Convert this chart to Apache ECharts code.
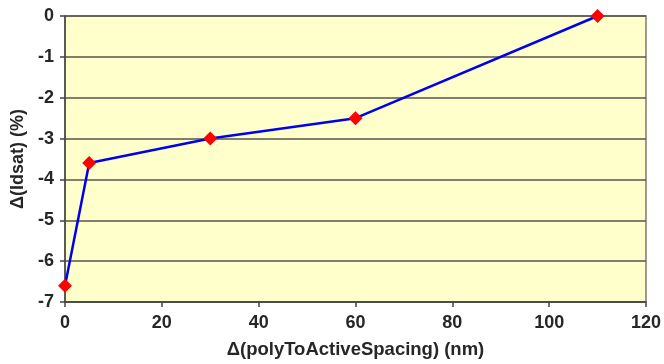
<!DOCTYPE html>
<html>
<head>
<meta charset="utf-8">
<script src="https://cdn.jsdelivr.net/npm/echarts@6/dist/echarts.min.js"></script>
<style>
  html, body { margin: 0; padding: 0; background: #ffffff; }
  #chart { width: 664px; height: 364px; }
</style>
</head>
<body>
<div id="chart"></div>
<script>
// Spacing change (nm) vs. relative Idsat change (%)
const spacing = [0, 5, 30, 60, 110];
const idsatDelta = [-6.6, -3.6, -3.0, -2.5, 0];
const xTitle = 'Δ(polyToActiveSpacing) (nm)';
const yTitle = 'Δ(Idsat) (%)';

const points = spacing.map((x, i) => [x, idsatDelta[i]]);
const font = 'Liberation Sans, Arial, sans-serif';

const chart = echarts.init(document.getElementById('chart'));
chart.setOption({
  animation: false,
  backgroundColor: '#ffffff',
  grid: {
    left: 65, right: 17, top: 16, bottom: 62,
    show: true,
    backgroundColor: '#ffffcc',
    borderColor: '#7a7a70',
    borderWidth: 1.5
  },
  xAxis: {
    type: 'value',
    min: 0, max: 120, interval: 20,
    name: xTitle,
    nameLocation: 'middle',
    nameGap: 38,
    nameTextStyle: { fontFamily: font, fontWeight: 'bold', fontSize: 18.5, color: '#262626' },
    axisLine: { show: true, onZero: false, lineStyle: { color: '#444', width: 1.5 } },
    axisTick: { show: true, length: 5, lineStyle: { color: '#444', width: 1.5 } },
    axisLabel: { fontFamily: font, fontWeight: 'bold', fontSize: 18, color: '#262626', margin: 12 },
    splitLine: { show: false }
  },
  yAxis: {
    type: 'value',
    min: -7, max: 0, interval: 1,
    name: yTitle,
    nameLocation: 'middle',
    nameGap: 38,
    nameRotate: 90,
    nameTextStyle: { fontFamily: font, fontWeight: 'bold', fontSize: 18, color: '#262626' },
    axisLine: { show: true, lineStyle: { color: '#444', width: 1.5 } },
    axisTick: { show: true, length: 5, lineStyle: { color: '#444', width: 1.5 } },
    axisLabel: { fontFamily: font, fontWeight: 'bold', fontSize: 18, color: '#262626', margin: 11 },
    splitLine: { show: true, lineStyle: { color: '#55554c', width: 1.5 } }
  },
  series: [{
    type: 'line',
    data: points,
    symbol: 'diamond',
    symbolSize: 14,
    itemStyle: { color: '#ff0000' },
    lineStyle: { color: '#0000ee', width: 2.5 },
    z: 3,
    clip: false
  }]
});
</script>
</body>
</html>
